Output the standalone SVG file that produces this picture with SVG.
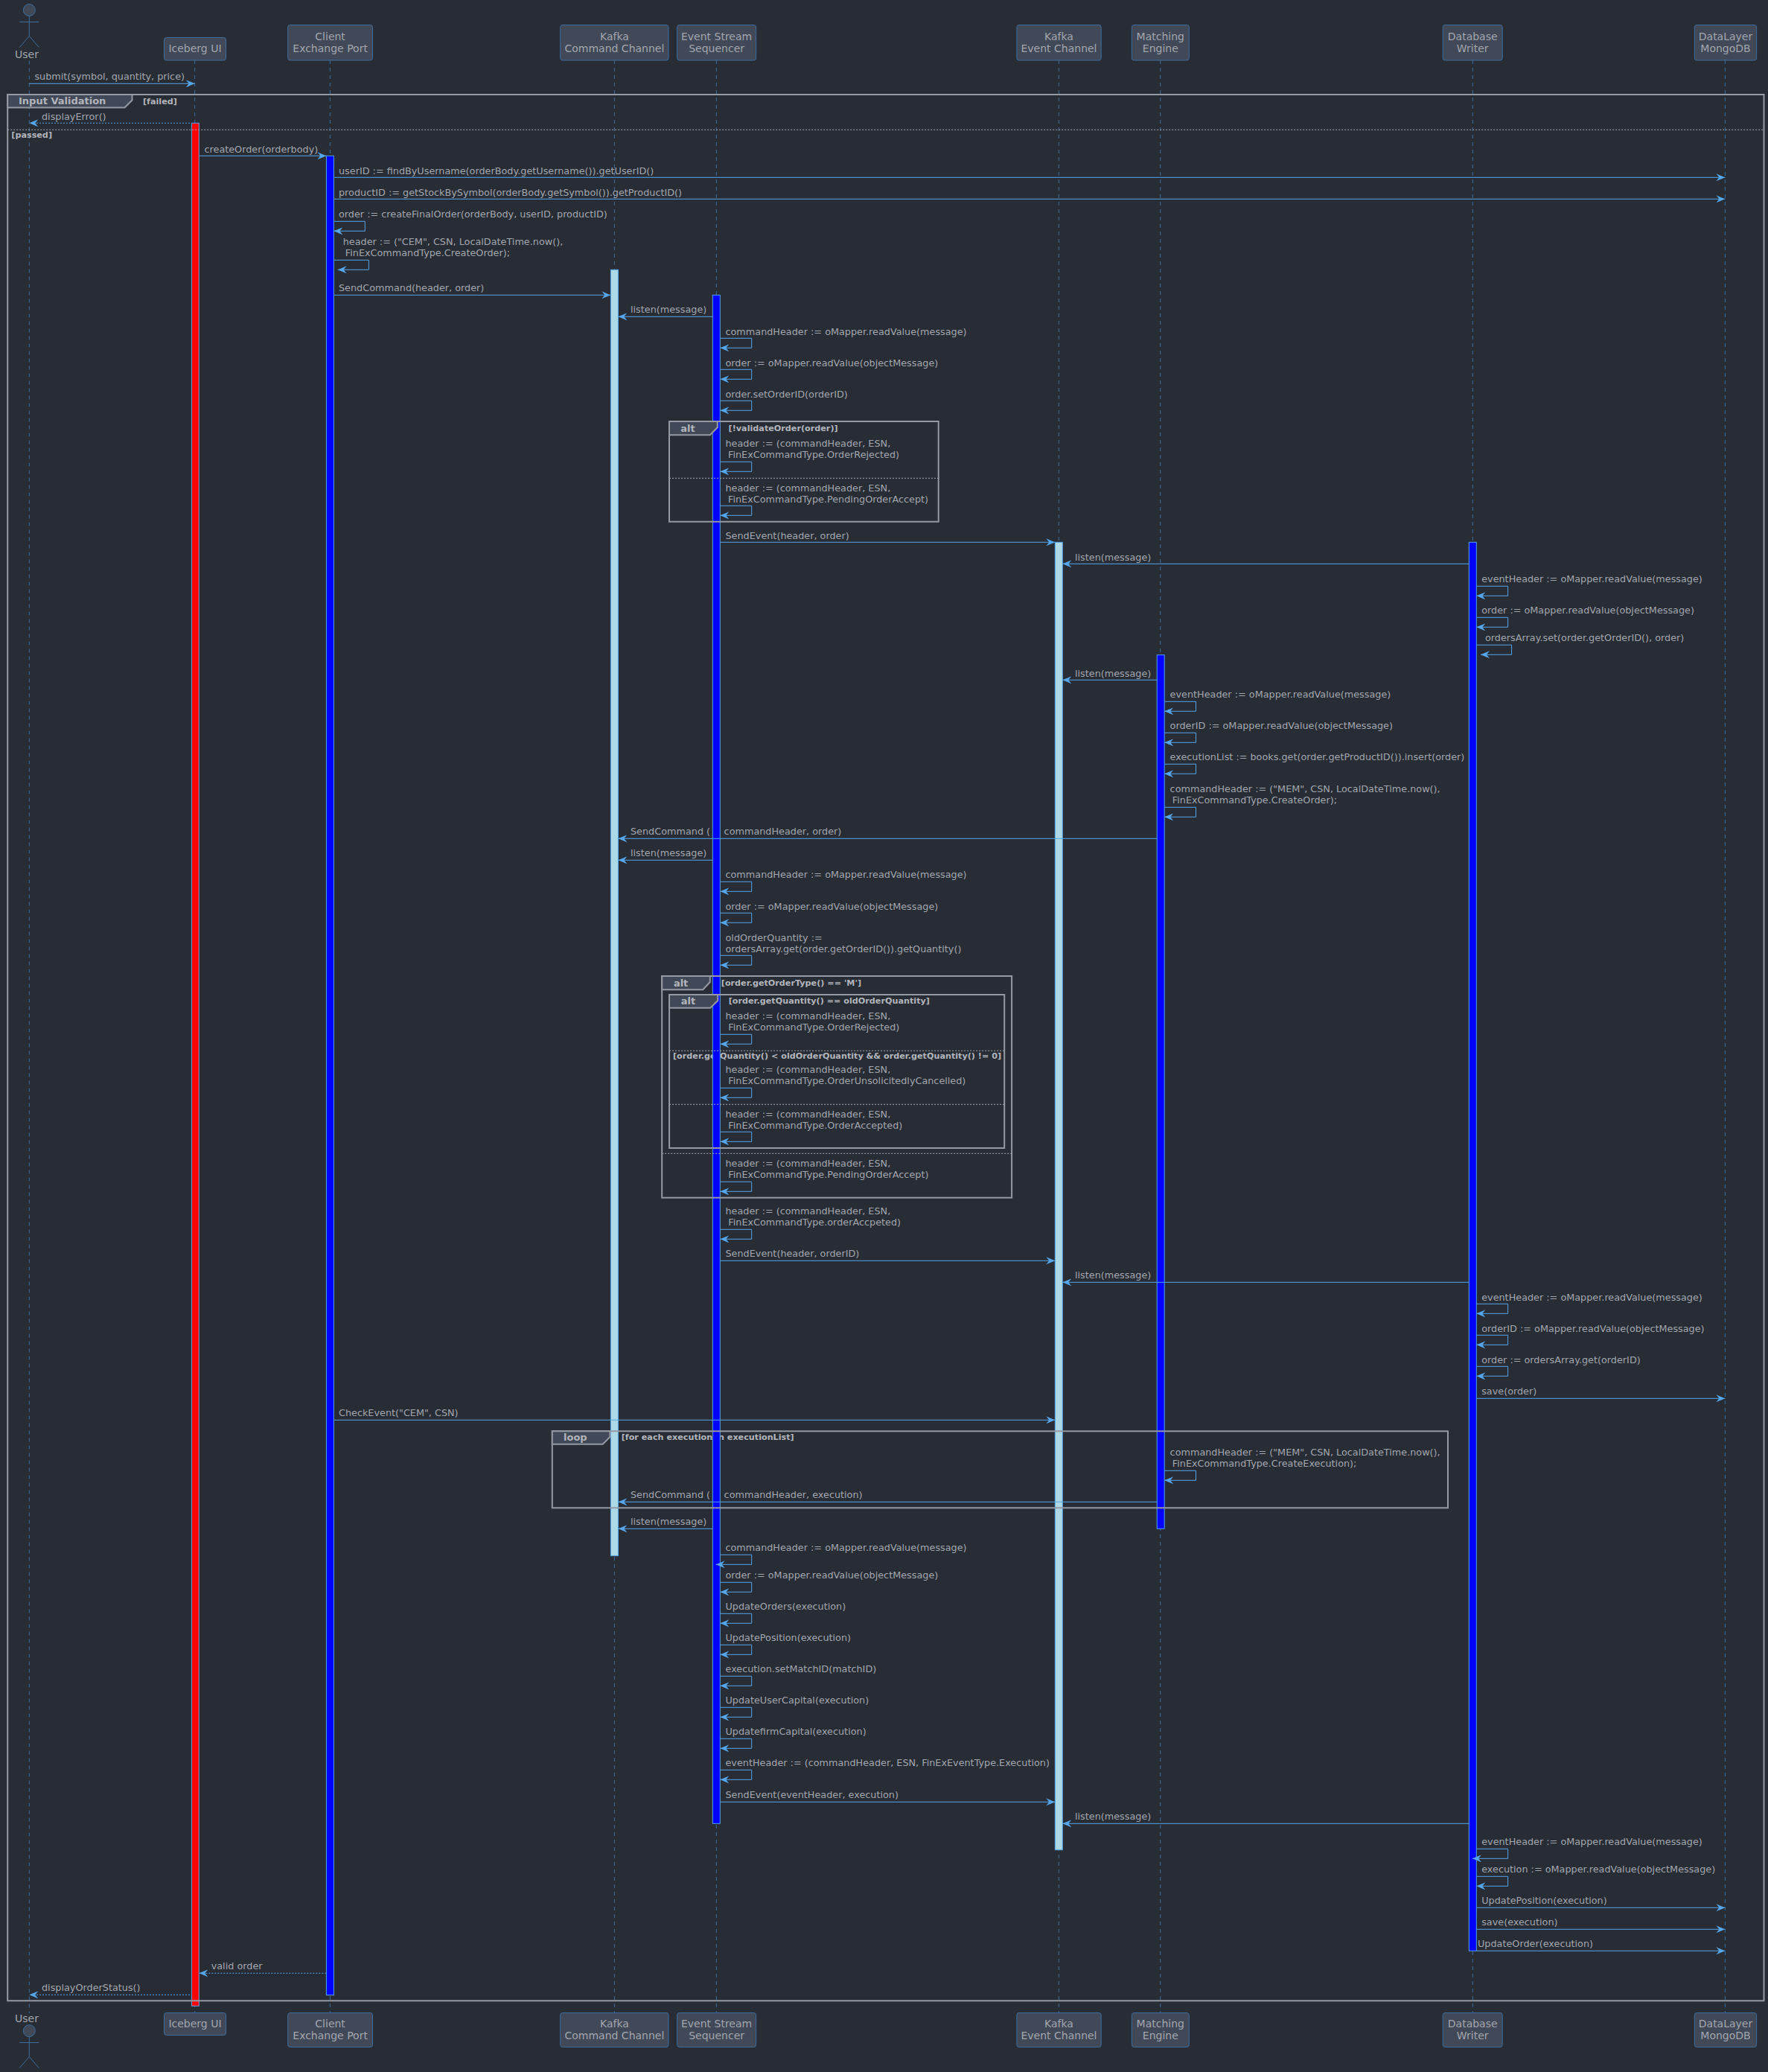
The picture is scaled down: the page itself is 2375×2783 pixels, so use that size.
<svg xmlns="http://www.w3.org/2000/svg" width="2375" height="2783" viewBox="0 0 2375 2783">
<style>
text{font-family:"DejaVu Sans",sans-serif;fill:#a2a6af}
.m{font-size:12.8px}
.p{font-size:14px;text-anchor:middle}
.g{font-size:11.2px;font-weight:bold;fill:#b2b5bc}
.t{font-size:13px;font-weight:bold;fill:#b2b5bc}
.box{fill:#414857;stroke:#3c6d9e;stroke-width:1}
.life{stroke:#3c6d9e;stroke-width:1;stroke-dasharray:5 5;fill:none}
.stick{stroke:#3c6d9e;stroke-width:1;fill:none}
.head{fill:#414857;stroke:#3c6d9e;stroke-width:1}
.bar{stroke:#55a6ea;stroke-width:1}
.c{stroke:#55a6ea;stroke-width:1;fill:none;marker-end:url(#a)}
.d{stroke-dasharray:2 2}
.f{fill:none;stroke:#9599a3;stroke-width:2}
.tab{fill:#414857;stroke:#9599a3;stroke-width:2}
.s{stroke:#a6aab3;stroke-width:1;stroke-dasharray:2 2;fill:none}
</style>
<defs>
<marker id="a" markerWidth="12" markerHeight="12" refX="12" refY="6" orient="auto" markerUnits="userSpaceOnUse"><path d="M0 1L12 6L0 11L4 6Z" fill="#55a6ea"/></marker>
</defs>
<rect width="2375" height="2783" fill="#282c34"/>

<g id="user">
<path class="life" d="M39.3 81.5V2704"/>
<circle class="head" cx="39.3" cy="13.5" r="8"/>
<path class="stick" d="M39.3 21.5V48.5M26.3 29.5H52.3M39.3 48.5L26.3 63.5M39.3 48.5L52.3 63.5"/>
<text class="p" x="36" y="77.7">User</text>
<text class="p" x="36" y="2715.7">User</text>
<circle class="head" cx="39.3" cy="2727.7" r="8"/>
<path class="stick" d="M39.3 2735.7V2762.5M26.3 2743.5H52.3M39.3 2762.5L26.3 2777.5M39.3 2762.5L52.3 2777.5"/>
</g>
<g id="iceberg-ui">
<path class="life" d="M261.7 81V2703"/>
<rect class="box" x="220.5" y="50.5" width="83" height="30.5" rx="3"/>
<text class="p" x="262" y="70">Iceberg UI</text>
<rect class="box" x="220.5" y="2703.5" width="83" height="30" rx="3"/>
<text class="p" x="262" y="2722.7">Iceberg UI</text>
</g>
<g id="client-exchange-port">
<path class="life" d="M443.4 81V2703"/>
<rect class="box" x="386.7" y="33.5" width="113.8" height="47.5" rx="3"/>
<text class="p" x="443.6" y="54.3">Client</text><text class="p" x="443.6" y="70">Exchange Port</text>
<rect class="box" x="386.7" y="2703.5" width="113.8" height="46" rx="3"/>
<text class="p" x="443.6" y="2722.7">Client</text><text class="p" x="443.6" y="2738.7">Exchange Port</text>
</g>
<g id="kafka-command-channel">
<path class="life" d="M825.4 81V2703"/>
<rect class="box" x="752.7" y="33.5" width="145.3" height="47.5" rx="3"/>
<text class="p" x="825.4" y="54.3">Kafka</text><text class="p" x="825.4" y="70">Command Channel</text>
<rect class="box" x="752.7" y="2703.5" width="145.3" height="46" rx="3"/>
<text class="p" x="825.4" y="2722.7">Kafka</text><text class="p" x="825.4" y="2738.7">Command Channel</text>
</g>
<g id="event-stream-sequencer">
<path class="life" d="M962.3 81V2703"/>
<rect class="box" x="909.6" y="33.5" width="106" height="47.5" rx="3"/>
<text class="p" x="962.6" y="54.3">Event Stream</text><text class="p" x="962.6" y="70">Sequencer</text>
<rect class="box" x="909.6" y="2703.5" width="106" height="46" rx="3"/>
<text class="p" x="962.6" y="2722.7">Event Stream</text><text class="p" x="962.6" y="2738.7">Sequencer</text>
</g>
<g id="kafka-event-channel">
<path class="life" d="M1422.3 81V2703"/>
<rect class="box" x="1365.9" y="33.5" width="113.3" height="47.5" rx="3"/>
<text class="p" x="1422.5" y="54.3">Kafka</text><text class="p" x="1422.5" y="70">Event Channel</text>
<rect class="box" x="1365.9" y="2703.5" width="113.3" height="46" rx="3"/>
<text class="p" x="1422.5" y="2722.7">Kafka</text><text class="p" x="1422.5" y="2738.7">Event Channel</text>
</g>
<g id="matching-engine">
<path class="life" d="M1558.8 81V2703"/>
<rect class="box" x="1520.4" y="33.5" width="76.9" height="47.5" rx="3"/>
<text class="p" x="1558.8" y="54.3">Matching</text><text class="p" x="1558.8" y="70">Engine</text>
<rect class="box" x="1520.4" y="2703.5" width="76.9" height="46" rx="3"/>
<text class="p" x="1558.8" y="2722.7">Matching</text><text class="p" x="1558.8" y="2738.7">Engine</text>
</g>
<g id="database-writer">
<path class="life" d="M1978.3 81V2703"/>
<rect class="box" x="1938.2" y="33.5" width="80" height="47.5" rx="3"/>
<text class="p" x="1978.2" y="54.3">Database</text><text class="p" x="1978.2" y="70">Writer</text>
<rect class="box" x="1938.2" y="2703.5" width="80" height="46" rx="3"/>
<text class="p" x="1978.2" y="2722.7">Database</text><text class="p" x="1978.2" y="2738.7">Writer</text>
</g>
<g id="datalayer-mongodb">
<path class="life" d="M2317.4 81V2703"/>
<rect class="box" x="2276.3" y="33.5" width="83.3" height="47.5" rx="3"/>
<text class="p" x="2318" y="54.3">DataLayer</text><text class="p" x="2318" y="70">MongoDB</text>
<rect class="box" x="2276.3" y="2703.5" width="83.3" height="46" rx="3"/>
<text class="p" x="2318" y="2722.7">DataLayer</text><text class="p" x="2318" y="2738.7">MongoDB</text>
</g>

<g id="message-labels" class="m">
<text class="m" x="46.4" y="107">submit(symbol, quantity, price)</text>
<text class="m" x="56" y="160.5">displayError()</text>
<text class="m" x="274.5" y="204.5">createOrder(orderbody)</text>
<text class="m" x="455" y="234">userID := findByUsername(orderBody.getUsername()).getUserID()</text>
<text class="m" x="455" y="263">productID := getStockBySymbol(orderBody.getSymbol()).getProductID()</text>
<text class="m" x="455" y="292">order := createFinalOrder(orderBody, userID, productID)</text>
<text class="m" x="460.7" y="329">header := ("CEM", CSN, LocalDateTime.now(),</text>
<text class="m" x="463.8" y="344">FinExCommandType.CreateOrder);</text>
<text class="m" x="455" y="391">SendCommand(header, order)</text>
<text class="m" x="847" y="420">listen(message)</text>
<text class="m" x="974.5" y="450">commandHeader := oMapper.readValue(message)</text>
<text class="m" x="974.5" y="492">order := oMapper.readValue(objectMessage)</text>
<text class="m" x="974.5" y="534">order.setOrderID(orderID)</text>
<text class="m" x="974.5" y="600">header := (commandHeader, ESN,</text>
<text class="m" x="978" y="615">FinExCommandType.OrderRejected)</text>
<text class="m" x="974.5" y="660">header := (commandHeader, ESN,</text>
<text class="m" x="978" y="675">FinExCommandType.PendingOrderAccept)</text>
<text class="m" x="974.5" y="724">SendEvent(header, order)</text>
<text class="m" x="1444" y="753">listen(message)</text>
<text class="m" x="1990.2" y="782">eventHeader := oMapper.readValue(message)</text>
<text class="m" x="1990.2" y="824">order := oMapper.readValue(objectMessage)</text>
<text class="m" x="1995" y="861">ordersArray.set(order.getOrderID(), order)</text>
<text class="m" x="1444" y="908.5">listen(message)</text>
<text class="m" x="1571.6" y="937">eventHeader := oMapper.readValue(message)</text>
<text class="m" x="1571.6" y="979">orderID := oMapper.readValue(objectMessage)</text>
<text class="m" x="1571.6" y="1021">executionList := books.get(order.getProductID()).insert(order)</text>
<text class="m" x="1571.6" y="1064">commandHeader := ("MEM", CSN, LocalDateTime.now(),</text>
<text class="m" x="1574.8" y="1079">FinExCommandType.CreateOrder);</text>
<text class="m" x="847" y="1121">SendCommand (<tspan x="972.6">commandHeader, order)</tspan></text>
<text class="m" x="847" y="1150">listen(message)</text>
<text class="m" x="974.5" y="1179">commandHeader := oMapper.readValue(message)</text>
<text class="m" x="974.5" y="1222">order := oMapper.readValue(objectMessage)</text>
<text class="m" x="974.5" y="1264">oldOrderQuantity :=</text>
<text class="m" x="974.5" y="1279">ordersArray.get(order.getOrderID()).getQuantity()</text>
<text class="m" x="974.5" y="1369">header := (commandHeader, ESN,</text>
<text class="m" x="978.3" y="1384">FinExCommandType.OrderRejected)</text>
<text class="m" x="974.5" y="1441">header := (commandHeader, ESN,</text>
<text class="m" x="978.3" y="1456">FinExCommandType.OrderUnsolicitedlyCancelled)</text>
<text class="m" x="974.5" y="1501">header := (commandHeader, ESN,</text>
<text class="m" x="978.3" y="1516">FinExCommandType.OrderAccepted)</text>
<text class="m" x="974.5" y="1567">header := (commandHeader, ESN,</text>
<text class="m" x="978.3" y="1582">FinExCommandType.PendingOrderAccept)</text>
<text class="m" x="974.5" y="1631">header := (commandHeader, ESN,</text>
<text class="m" x="978.3" y="1646">FinExCommandType.orderAccpeted)</text>
<text class="m" x="974.5" y="1688">SendEvent(header, orderID)</text>
<text class="m" x="1444" y="1717">listen(message)</text>
<text class="m" x="1990.2" y="1747">eventHeader := oMapper.readValue(message)</text>
<text class="m" x="1990.2" y="1789">orderID := oMapper.readValue(objectMessage)</text>
<text class="m" x="1990.2" y="1831">order := ordersArray.get(orderID)</text>
<text class="m" x="1990.2" y="1873">save(order)</text>
<text class="m" x="455" y="1902">CheckEvent("CEM", CSN)</text>
<text class="m" x="1571.6" y="1955">commandHeader := ("MEM", CSN, LocalDateTime.now(),</text>
<text class="m" x="1574.8" y="1970">FinExCommandType.CreateExecution);</text>
<text class="m" x="847" y="2012">SendCommand (<tspan x="972.6">commandHeader, execution)</tspan></text>
<text class="m" x="847" y="2048">listen(message)</text>
<text class="m" x="974.5" y="2083">commandHeader := oMapper.readValue(message)</text>
<text class="m" x="974.5" y="2120">order := oMapper.readValue(objectMessage)</text>
<text class="m" x="974.5" y="2162">UpdateOrders(execution)</text>
<text class="m" x="974.5" y="2204">UpdatePosition(execution)</text>
<text class="m" x="974.5" y="2246">execution.setMatchID(matchID)</text>
<text class="m" x="974.5" y="2288">UpdateUserCapital(execution)</text>
<text class="m" x="974.5" y="2330">UpdatefirmCapital(execution)</text>
<text class="m" x="974.5" y="2372">eventHeader := (commandHeader, ESN, FinExEventType.Execution)</text>
<text class="m" x="974.5" y="2415">SendEvent(eventHeader, execution)</text>
<text class="m" x="1444" y="2444">listen(message)</text>
<text class="m" x="1990.2" y="2478">eventHeader := oMapper.readValue(message)</text>
<text class="m" x="1990.2" y="2515">execution := oMapper.readValue(objectMessage)</text>
<text class="m" x="1990.2" y="2557">UpdatePosition(execution)</text>
<text class="m" x="1990.2" y="2586">save(execution)</text>
<text class="m" x="1985" y="2615">UpdateOrder(execution)</text>
<text class="m" x="283.7" y="2645">valid order</text>
<text class="m" x="56" y="2674">displayOrderStatus()</text>
</g>
<g id="frame-guards">
<text class="g" x="192" y="139.5">[failed]</text>
<text class="g" x="15.3" y="185">[passed]</text>
<text class="g" x="978.6" y="578.7">[!validateOrder(order)]</text>
<text class="g" x="968.8" y="1323.7">[order.getOrderType() == 'M']</text>
<text class="g" x="978.7" y="1348">[order.getQuantity() == oldOrderQuantity]</text>
<text class="g" x="904" y="1422">[order.getQuantity() &lt; oldOrderQuantity &amp;&amp; order.getQuantity() != 0]</text>
<text class="g" x="834.7" y="1933.7">[for each execution in executionList]</text>
</g>

<g id="activations">
<rect class="bar" fill="#ff0000" x="257.4" y="165.3" width="9.9" height="2529"/>
<rect class="bar" fill="#0000ff" x="438.4" y="209.3" width="10" height="2470.4"/>
<rect class="bar" fill="#add8e6" x="820.4" y="362.3" width="10" height="1727.4"/>
<rect class="bar" fill="#0000ff" x="957.3" y="396.3" width="10" height="2053"/>
<rect class="bar" fill="#add8e6" x="1417.3" y="728.3" width="10" height="1756.4"/>
<rect class="bar" fill="#0000ff" x="1554.2" y="879.7" width="10" height="1173.6"/>
<rect class="bar" fill="#0000ff" x="1973.3" y="728.3" width="10" height="1892"/>
</g>

<g id="connectors">
<path class="c" d="M39.3 112.3H261.7"/>
<path class="c d" d="M255 165.3H39.3"/>
<path class="c" d="M267.3 209.3H438.4"/>
<path class="c" d="M448.4 238.3H2317.4"/>
<path class="c" d="M448.4 267.3H2317.4"/>
<path class="c" d="M448.4 297.3H490.3V310.3H448.4"/>
<path class="c" d="M448.4 349.3H495.4V362.3H453.6"/>
<path class="c" d="M448.4 396.3H820.4"/>
<path class="c" d="M957.3 425.3H830.4"/>
<path class="c" d="M967.3 454.3H1009.7V467.3H967.3"/>
<path class="c" d="M967.3 496.3H1009.7V509.3H967.3"/>
<path class="c" d="M967.3 538.3H1009.7V551.3H967.3"/>
<path class="c" d="M967.3 620.3H1009.7V633.3H967.3"/>
<path class="c" d="M967.3 679.3H1009.7V692.3H967.3"/>
<path class="c" d="M967.3 728.3H1417.3"/>
<path class="c" d="M1973.3 757.3H1427.3"/>
<path class="c" d="M1983.3 787.3H2025.6V800.3H1983.3"/>
<path class="c" d="M1983.3 829.3H2025.6V842.3H1983.3"/>
<path class="c" d="M1983.3 866.3H2030.6V879.3H1989"/>
<path class="c" d="M1554.2 913.3H1427.3"/>
<path class="c" d="M1564.2 942.3H1606.5V955.3H1564.2"/>
<path class="c" d="M1564.2 984.3H1606.5V997.3H1564.2"/>
<path class="c" d="M1564.2 1026.3H1606.5V1039.3H1564.2"/>
<path class="c" d="M1564.2 1084.3H1606.5V1097.3H1564.2"/>
<path class="c" d="M1554.2 1126.3H830.4"/>
<path class="c" d="M957.3 1155.3H830.4"/>
<path class="c" d="M967.3 1184.3H1009.7V1197.3H967.3"/>
<path class="c" d="M967.3 1226.3H1009.7V1239.3H967.3"/>
<path class="c" d="M967.3 1283.3H1009.7V1296.3H967.3"/>
<path class="c" d="M967.3 1389.3H1009.7V1402.3H967.3"/>
<path class="c" d="M967.3 1461.3H1009.7V1474.3H967.3"/>
<path class="c" d="M967.3 1520.3H1009.7V1533.3H967.3"/>
<path class="c" d="M967.3 1587.3H1009.7V1600.3H967.3"/>
<path class="c" d="M967.3 1651.3H1009.7V1664.3H967.3"/>
<path class="c" d="M967.3 1693.3H1417.3"/>
<path class="c" d="M1973.3 1722.3H1427.3"/>
<path class="c" d="M1983.3 1751.3H2025.6V1764.3H1983.3"/>
<path class="c" d="M1983.3 1793.3H2025.6V1806.3H1983.3"/>
<path class="c" d="M1983.3 1835.3H2025.6V1848.3H1983.3"/>
<path class="c" d="M1983.3 1878.3H2317.4"/>
<path class="c" d="M448.4 1907.3H1417.3"/>
<path class="c" d="M1564.2 1975.3H1606.5V1988.3H1564.2"/>
<path class="c" d="M1554.2 2017.3H830.4"/>
<path class="c" d="M957.3 2053.3H830.4"/>
<path class="c" d="M967.3 2088.3H1009.7V2101.3H961.7"/>
<path class="c" d="M967.3 2125.3H1009.7V2138.3H967.3"/>
<path class="c" d="M967.3 2167.3H1009.7V2180.3H967.3"/>
<path class="c" d="M967.3 2209.3H1009.7V2222.3H967.3"/>
<path class="c" d="M967.3 2251.3H1009.7V2264.3H967.3"/>
<path class="c" d="M967.3 2293.3H1009.7V2306.3H967.3"/>
<path class="c" d="M967.3 2335.3H1009.7V2348.3H967.3"/>
<path class="c" d="M967.3 2377.3H1009.7V2390.3H967.3"/>
<path class="c" d="M967.3 2420.3H1417.3"/>
<path class="c" d="M1973.3 2449.3H1427.3"/>
<path class="c" d="M1983.3 2483.3H2025.6V2496.3H1978"/>
<path class="c" d="M1983.3 2520.3H2025.6V2533.3H1983.3"/>
<path class="c" d="M1983.3 2562.3H2317.4"/>
<path class="c" d="M1983.3 2591.3H2317.4"/>
<path class="c" d="M1983.3 2620.3H2317.4"/>
<path class="c d" d="M438.4 2650.3H267.3"/>
<path class="c d" d="M255 2679.3H39.3"/>
</g>

<g id="frames">
<g id="frame-input-validation">
<rect class="f" x="10.2" y="127" width="2359.3" height="2560.3"/>
<path class="tab" d="M10.2 127H177.5V134.5L167.5 144.5H10.2Z"/>
<text class="t" x="25" y="140">Input Validation</text>
<path class="s" d="M10.2 174.3H2369.5"/>
</g>
<g id="frame-alt-validate">
<rect class="f" x="899" y="566" width="361.7" height="134.7"/>
<path class="tab" d="M899 566H963.8V574L953.8 584.3H899Z"/>
<text class="t" x="914.3" y="580">alt</text>
<path class="s" d="M899 642.3H1260.7"/>
</g>
<g id="frame-alt-ordertype">
<rect class="f" x="889.2" y="1311" width="469.9" height="297.7"/>
<path class="tab" d="M889.2 1311H953.8V1319L944.3 1329.3H889.2Z"/>
<text class="t" x="904.9" y="1325">alt</text>
<path class="s" d="M889.2 1549.3H1359.1"/>
</g>
<g id="frame-alt-quantity">
<rect class="f" x="899.1" y="1336" width="450.1" height="206"/>
<path class="tab" d="M899.1 1336H964.2V1344L954.2 1353.7H899.1Z"/>
<text class="t" x="914.8" y="1349.3">alt</text>
<path class="s" d="M899.1 1411.3H1349.2M899.1 1483.3H1349.2"/>
</g>
<g id="frame-loop">
<rect class="f" x="741.8" y="1922.3" width="1203.2" height="103"/>
<path class="tab" d="M741.8 1922.3H819.4V1930L809.7 1939.7H741.8Z"/>
<text class="t" x="757" y="1935">loop</text>
</g>
</g>
</svg>
